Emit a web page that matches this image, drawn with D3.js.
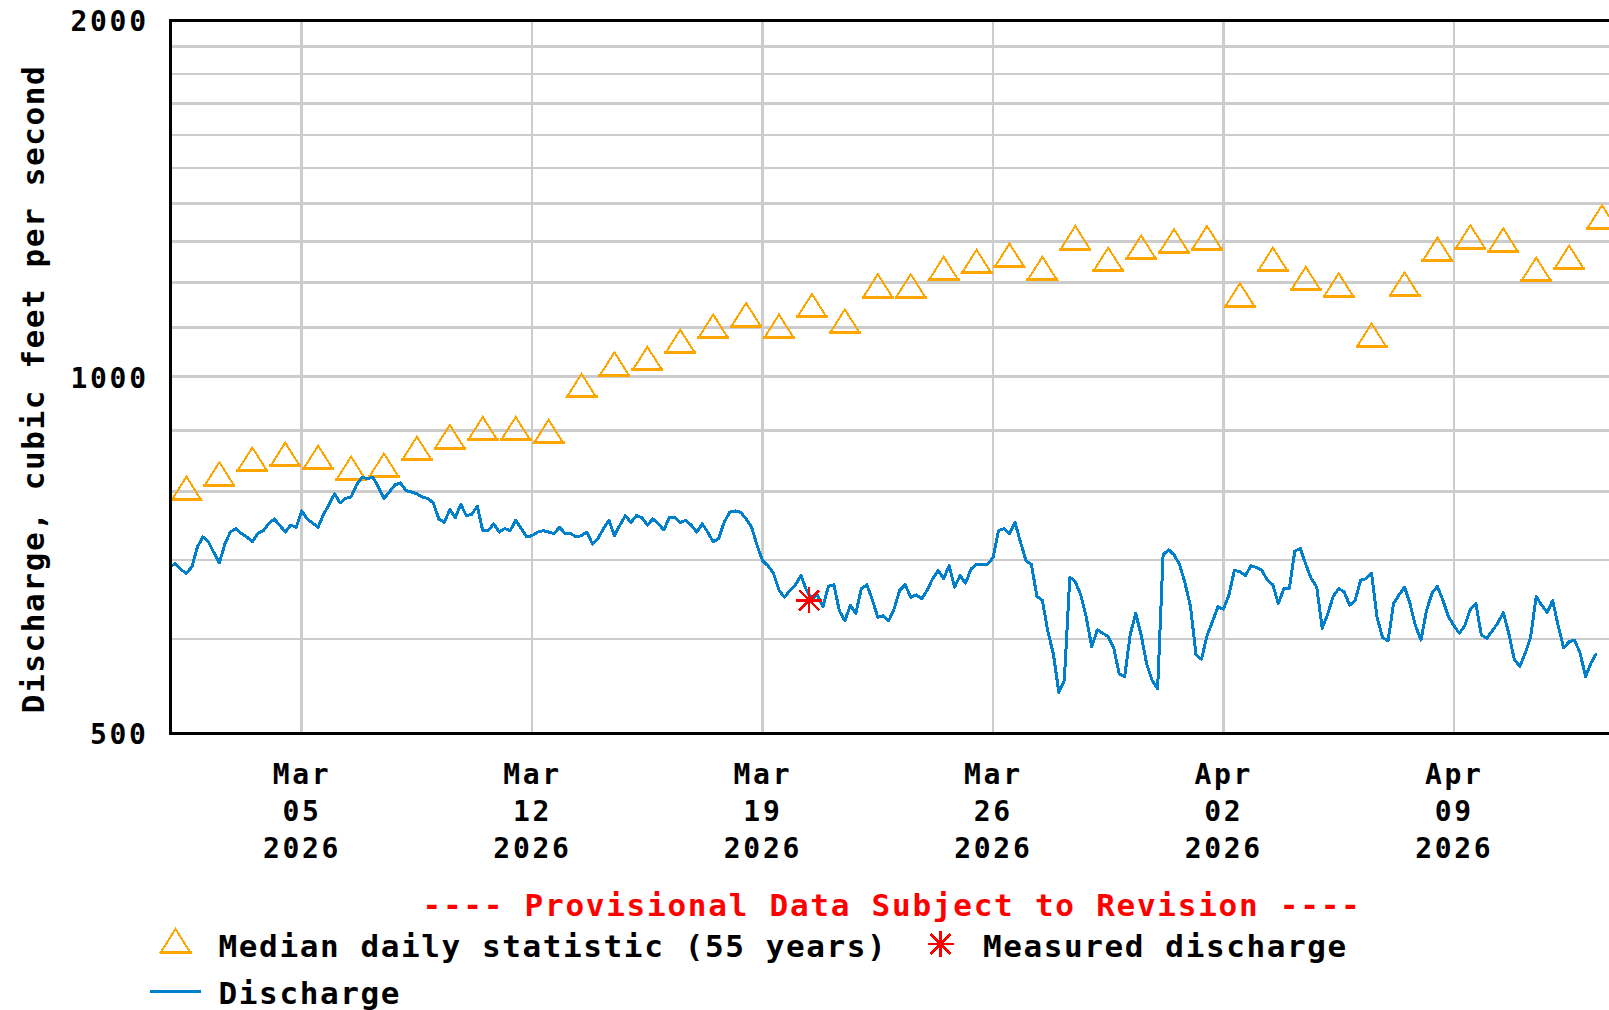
<!DOCTYPE html>
<html>
<head>
<meta charset="utf-8">
<script src="https://cdn.jsdelivr.net/npm/d3@7"></script>
<style>
  body { margin: 0; background: #fff; }
  text { font-family: "DejaVu Sans Mono", monospace; font-weight: bold; }
  line, path, rect { shape-rendering: crispEdges; }
</style>
</head>
<body>
<svg id="chart" width="1609" height="1010"></svg>
<script>
// Discharge, 4-hourly readings starting Mar 01 2026 00:00 (cfs)
var dischargeStart = Date.UTC(2026, 2, 1, 0);
var dischargeStepHours = 4;
var discharge = [
	691, 695, 687, 682, 691, 718, 732, 725, 710, 696,
	722, 739, 744, 737, 732, 725, 737, 741, 751, 758,
	749, 739, 749, 746, 770, 758, 752, 746, 765, 780,
	796, 782, 789, 791, 810, 822, 820, 822, 806, 789,
	799, 810, 813, 801, 799, 796, 791, 789, 782, 758,
	753, 772, 760, 780, 763, 765, 777, 741, 741, 751,
	739, 744, 741, 756, 744, 732, 734, 739, 741, 739,
	737, 746, 737, 737, 732, 734, 739, 722, 730, 744,
	756, 734, 749, 763, 753, 763, 760, 749, 758, 751,
	742, 760, 760, 753, 756, 749, 739, 751, 739, 725,
	730, 753, 768, 770, 768, 758, 746, 720, 699, 692,
	682, 660, 651, 660, 667, 679, 660, 649, 654, 639,
	665, 667, 634, 622, 641, 631, 662, 667, 648, 626,
	628, 622, 637, 660, 667, 651, 654, 649, 660, 675,
	686, 675, 692, 664, 679, 669, 688, 694, 694, 694,
	703, 741, 744, 737, 753, 725, 699, 694, 652, 647,
	609, 583, 541, 554, 677, 671, 654, 626, 591, 611,
	607, 603, 590, 561, 558, 605, 631, 605, 572, 554,
	545, 707, 714, 707, 694, 669, 639, 582, 577, 604,
	621, 639, 636, 654, 686, 684, 679, 692, 690, 686,
	673, 667, 643, 662, 662, 712, 716, 694, 675, 664,
	613, 630, 652, 662, 658, 641, 647, 673, 675, 682,
	626, 602, 598, 643, 654, 664, 643, 616, 599, 634,
	656, 665, 647, 627, 616, 607, 616, 636, 643, 605,
	601, 610, 619, 632, 607, 577, 569, 584, 603, 652,
	641, 632, 647, 616, 590, 597, 599, 584, 558, 573,
	584
];

// Median daily statistic (55 years), one value per day from Mar 01
var medianStart = Date.UTC(2026, 2, 1, 12);
var median = [
	804, 827, 851, 859, 854, 836, 841, 869, 889, 903,
	903, 898, 982, 1024, 1035, 1070, 1102, 1127, 1102, 1147,
	1113, 1192, 1192, 1233, 1250, 1265, 1233, 1309, 1255, 1285,
	1301, 1309, 1171, 1255, 1209, 1194, 1083, 1196, 1280, 1311,
	1303, 1231, 1260, 1363
];

// Field measurement
var measuredTimes = [Date.UTC(2026, 2, 20, 10)];
var measuredValues = [647];

// Axis ticks
var xTickDates = [
	Date.UTC(2026, 2, 5), Date.UTC(2026, 2, 12), Date.UTC(2026, 2, 19),
	Date.UTC(2026, 2, 26), Date.UTC(2026, 3, 2), Date.UTC(2026, 3, 9)
];
var yLabelValues = [500, 1000, 2000];
var yGridValues = [600, 700, 800, 900, 1000, 1100, 1200, 1300, 1400, 1500, 1600, 1700, 1800, 1900];

var plot = {left: 170, right: 1618.5, top: 20, bottom: 733};
var orange = '#ffa500', blue = '#0080cc', red = '#ff0000';

var svg = d3.select('#chart');
svg.append('rect').attr('width', 1609).attr('height', 1010).attr('fill', '#fff');

var x = d3.scaleUtc()
	.domain([Date.UTC(2026, 2, 1), Date.UTC(2026, 3, 14)])
	.range([plot.left, plot.right]);

var y = d3.scaleLog()
	.domain([500, 2000])
	.range([plot.bottom, plot.top]);

// Grid
svg.append('g').selectAll('line')
	.data(yGridValues).enter().append('line')
	.attr('x1', plot.left).attr('x2', plot.right)
	.attr('y1', function(d) { return y(d); })
	.attr('y2', function(d) { return y(d); })
	.attr('stroke', '#cccccc').attr('stroke-width', 2.5);

svg.append('g').selectAll('line')
	.data(xTickDates).enter().append('line')
	.attr('x1', function(d) { return x(d); })
	.attr('x2', function(d) { return x(d); })
	.attr('y1', plot.top).attr('y2', plot.bottom)
	.attr('stroke', '#cccccc').attr('stroke-width', 2.5);

// Triangle marker for median statistic
function triangle(g, cx, cy) {
	g.append('path')
		.attr('d', 'M' + cx + ',' + (cy - 12) + 'L' + (cx - 14.5) + ',' + (cy + 11) + 'L' + (cx + 14.5) + ',' + (cy + 11) + 'Z')
		.attr('fill', 'none').attr('stroke', orange).attr('stroke-width', 2);
	g.append('line')
		.attr('x1', cx - 16).attr('x2', cx + 16)
		.attr('y1', cy + 11).attr('y2', cy + 11)
		.attr('stroke', orange).attr('stroke-width', 3);
}

// Asterisk marker for measured discharge
function asterisk(g, cx, cy) {
	var r = 13, d = 10;
	[[-r, 0, r, 0], [0, -r, 0, r], [-d, -d, d, d], [-d, d, d, -d]].forEach(function(s) {
		g.append('line')
			.attr('x1', cx + s[0]).attr('y1', cy + s[1])
			.attr('x2', cx + s[2]).attr('y2', cy + s[3])
			.attr('stroke', red).attr('stroke-width', 2.5);
	});
}

// Median triangles
var medG = svg.append('g');
median.forEach(function(v, i) {
	triangle(medG, x(medianStart + i * 864e5), y(v));
});

// Discharge line
var line = d3.line()
	.x(function(d, i) { return x(dischargeStart + i * dischargeStepHours * 36e5); })
	.y(function(d) { return y(d); });

svg.append('path')
	.datum(discharge)
	.attr('d', line)
	.attr('fill', 'none')
	.attr('stroke', blue)
	.attr('stroke-width', 3)
	.attr('stroke-linejoin', 'round');

// Measured discharge
var measG = svg.append('g');
measuredTimes.forEach(function(t, i) {
	asterisk(measG, x(t), y(measuredValues[i]));
});

// Plot frame
svg.append('rect')
	.attr('x', plot.left).attr('y', plot.top)
	.attr('width', plot.right - plot.left).attr('height', plot.bottom - plot.top)
	.attr('fill', 'none').attr('stroke', '#000').attr('stroke-width', 3);

// Y tick labels
var ls = 2.7;
svg.append('g').selectAll('text')
	.data(yLabelValues).enter().append('text')
	.attr('x', 146 + ls)
	.attr('y', function(d) { return y(d) + 11; })
	.attr('text-anchor', 'end')
	.style('font-size', '28px')
	.style('letter-spacing', ls + 'px')
	.text(function(d) { return d; });

// X tick labels, three lines each
var fmt = [d3.utcFormat('%b'), d3.utcFormat('%d'), d3.utcFormat('%Y')];
var xl = svg.append('g').selectAll('text')
	.data(xTickDates).enter().append('text')
	.attr('text-anchor', 'middle')
	.style('font-size', '28px')
	.style('letter-spacing', ls + 'px');
fmt.forEach(function(f, k) {
	xl.append('tspan')
		.attr('x', function(d) { return x(d) - 1 + ls / 2; })
		.attr('y', 784 + k * 37)
		.text(function(d) { return f(new Date(d)); });
});

// Y axis title
svg.append('text')
	.attr('transform', 'translate(44,389) rotate(-90)')
	.attr('text-anchor', 'middle')
	.style('font-size', '31px')
	.style('letter-spacing', '1.6px')
	.text('Discharge, cubic feet per second');

// Provisional note
svg.append('text')
	.attr('x', 892).attr('y', 916)
	.attr('text-anchor', 'middle')
	.attr('fill', red)
	.style('font-size', '31px')
	.style('letter-spacing', '1.75px')
	.text('---- Provisional Data Subject to Revision ----');

// Legend
var leg = svg.append('g');
triangle(leg, 175.5, 941);
leg.append('text').attr('x', 218.6).attr('y', 957)
	.style('font-size', '31px').style('letter-spacing', '1.6px')
	.text('Median daily statistic (55 years)');
asterisk(leg, 940.7, 944);
leg.append('text').attr('x', 983).attr('y', 957)
	.style('font-size', '31px').style('letter-spacing', '1.6px')
	.text('Measured discharge');
leg.append('line')
	.attr('x1', 150).attr('x2', 201).attr('y1', 991).attr('y2', 991)
	.attr('stroke', blue).attr('stroke-width', 3);
leg.append('text').attr('x', 218.6).attr('y', 1004)
	.style('font-size', '31px').style('letter-spacing', '1.6px')
	.text('Discharge');
</script>
</body>
</html>
